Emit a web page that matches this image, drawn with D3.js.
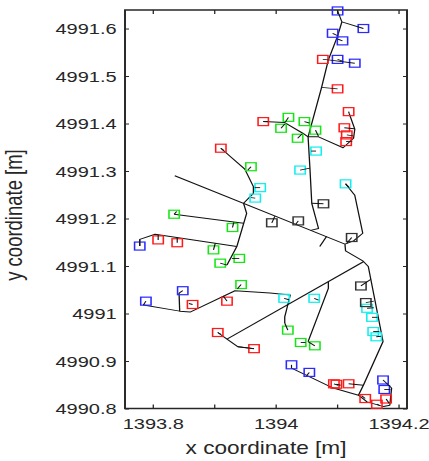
<!DOCTYPE html>
<html><head><meta charset="utf-8">
<script src="https://cdn.jsdelivr.net/npm/d3@7"></script>
<style>html,body{margin:0;padding:0;background:#fff;overflow:hidden}</style>
</head><body>
<svg id="chart" width="429" height="461"></svg>
<script>
// ---- data (metres) ----
const xTicks = [1393.8, 1393.9, 1394.0, 1394.1, 1394.2];
const xTickLabels = ["1393.8", "", "1394", "", "1394.2"];
const yTicks = [4990.8, 4990.9, 4991.0, 4991.1, 4991.2, 4991.3, 4991.4, 4991.5, 4991.6];
const yTickLabels = ["4990.8", "4990.9", "4991", "4991.1", "4991.2", "4991.3", "4991.4", "4991.5", "4991.6"];
const xTitle = "x coordinate [m]";
const yTitle = "y coordinate [m]";

// network polylines [x, y]
const networkLines = [
  [[1394.108,4991.614],[1394.101,4991.584],[1394.086,4991.534],[1394.075,4991.476],[1394.053,4991.372],[1394.056,4991.306],[1394.059,4991.232],[1394.070,4991.179],[1394.057,4991.175]],
  [[1393.980,4991.404],[1394.015,4991.402],[1394.045,4991.379],[1394.053,4991.372]],
  [[1394.053,4991.372],[1394.070,4991.372],[1394.110,4991.349],[1394.127,4991.369],[1394.129,4991.388],[1394.120,4991.421]],
  [[1393.911,4991.348],[1393.950,4991.304],[1393.964,4991.267],[1393.964,4991.253],[1393.948,4991.232],[1393.953,4991.211],[1393.937,4991.141],[1393.921,4991.102]],
  [[1393.835,4991.209],[1393.948,4991.190]],
  [[1393.779,4991.142],[1393.779,4991.156],[1393.804,4991.167],[1393.937,4991.141]],
  [[1393.836,4991.290],[1394.113,4991.146]],
  [[1394.113,4991.146],[1394.114,4991.132],[1394.142,4991.111],[1394.151,4991.099],[1394.175,4990.941],[1394.143,4990.849],[1394.135,4990.828]],
  [[1394.114,4991.273],[1394.129,4991.249],[1394.142,4991.169],[1394.127,4991.153],[1394.113,4991.146]],
  [[1394.083,4991.162],[1394.072,4991.141]],
  [[1393.785,4991.018],[1393.844,4991.005],[1393.861,4991.003],[1393.934,4991.048],[1393.991,4991.043],[1394.024,4991.039],[1394.015,4990.993],[1394.015,4990.980]],
  [[1393.843,4991.043],[1393.844,4991.005]],
  [[1393.906,4990.960],[1393.921,4990.946],[1393.939,4990.930],[1393.965,4990.926]],
  [[1393.921,4990.946],[1394.143,4991.109]],
  [[1394.086,4991.067],[1394.086,4991.053],[1394.053,4990.941]],
  [[1394.026,4990.885],[1394.094,4990.843],[1394.135,4990.828],[1394.149,4990.814],[1394.176,4990.804],[1394.186,4990.807],[1394.189,4990.843]]
];

// nodes: [x, y, linkX, linkY]
const blueNodes = [
  [1394.101,4991.637,1394.108,4991.614],[1394.143,4991.600,1394.108,4991.614],
  [1394.093,4991.590,1394.101,4991.585],[1394.109,4991.574,1394.101,4991.578],
  [1394.101,4991.535,1394.108,4991.532],[1394.129,4991.527,1394.086,4991.534],
  [1393.779,4991.142,1393.779,4991.156],[1393.789,4991.026,1393.785,4991.018],
  [1393.849,4991.048,1393.843,4991.043],[1394.026,4990.892,1394.026,4990.885],
  [1394.055,4990.876,1394.051,4990.870],[1394.175,4990.860,1394.189,4990.843],
  [1394.177,4990.840,1394.187,4990.840]
];
const redNodes = [
  [1394.077,4991.535,1394.086,4991.534],[1394.101,4991.473,1394.075,4991.476],
  [1394.119,4991.425,1394.120,4991.421],[1394.112,4991.391,1394.128,4991.389],
  [1394.116,4991.376,1394.126,4991.374],[1394.115,4991.362,1394.125,4991.363],
  [1393.980,4991.404,1393.988,4991.404],[1393.911,4991.348,1393.916,4991.343],
  [1393.809,4991.155,1393.809,4991.166],[1393.840,4991.149,1393.840,4991.160],
  [1393.865,4991.019,1393.859,4991.021],[1393.921,4991.026,1393.915,4991.037],
  [1393.906,4990.960,1393.911,4990.956],[1393.965,4990.926,1393.939,4990.930],
  [1394.095,4990.852,1394.102,4990.849],[1394.099,4990.851,1394.106,4990.849],
  [1394.119,4990.852,1394.143,4990.849],[1394.146,4990.821,1394.140,4990.827],
  [1394.165,4990.809,1394.170,4990.806],[1394.180,4990.820,1394.185,4990.811]
];
const greenNodes = [
  [1394.021,4991.413,1394.016,4991.403],[1394.009,4991.390,1394.015,4991.399],
  [1394.047,4991.404,1394.055,4991.401],[1394.036,4991.369,1394.043,4991.378],
  [1394.065,4991.386,1394.070,4991.373],[1393.960,4991.309,1393.955,4991.302],
  [1393.835,4991.209,1393.839,4991.215],[1393.930,4991.181,1393.932,4991.192],
  [1393.899,4991.134,1393.902,4991.148],[1393.910,4991.106,1393.921,4991.102],
  [1393.941,4991.116,1393.929,4991.116],[1393.944,4991.061,1393.938,4991.052],
  [1394.020,4990.965,1394.015,4990.980],[1394.041,4990.939,1394.049,4990.939],
  [1394.064,4990.932,1394.053,4990.941]
];
const cyanNodes = [
  [1394.066,4991.342,1394.058,4991.342],[1394.040,4991.302,1394.056,4991.306],
  [1393.975,4991.265,1393.966,4991.265],[1393.967,4991.243,1393.960,4991.244],
  [1394.114,4991.273,1394.120,4991.265],[1394.014,4991.032,1394.022,4991.029],
  [1394.063,4991.032,1394.070,4991.028],[1394.149,4991.011,1394.160,4991.012],
  [1394.157,4990.992,1394.166,4990.992],[1394.159,4990.962,1394.169,4990.962],
  [1394.164,4990.951,1394.172,4990.952]
];
const blackNodes = [
  [1394.078,4991.231,1394.059,4991.232],[1393.994,4991.191,1393.999,4991.205],
  [1394.037,4991.195,1394.033,4991.188],[1394.124,4991.160,1394.116,4991.148],
  [1394.139,4991.058,1394.155,4991.072],[1394.147,4991.023,1394.160,4991.026]
];

// ---- layout ----
const W = 429, H = 461;
const STRETCH = 614 / 475;          // picture is stretched horizontally
const VW = W / STRETCH;
const svg = d3.select("#chart")
  .attr("viewBox", `0 0 ${VW} ${H}`)
  .attr("preserveAspectRatio", "none");

const L = 125 / STRETCH, R = 407 / STRETCH, T = 10, B = 408.5;
const x = d3.scaleLinear().domain([1393.755, 1394.214]).range([L, R]);
const y = d3.scaleLinear().domain([4990.8, 4991.639]).range([B, T]);
const font = "'Liberation Sans', Arial, Helvetica, sans-serif";
const axisColor = "#262626";
const tickLen = 4;

// axes
function styleAxis(g) {
  g.select(".domain").remove();
  g.selectAll("line").attr("stroke", axisColor).attr("stroke-width", 1);
  g.selectAll("text").attr("font-family", font).attr("font-size", 15.5).attr("fill", axisColor);
}
svg.append("g").attr("transform", `translate(0,${B})`)
  .call(d3.axisBottom(x).tickValues(xTicks).tickSize(-tickLen).tickPadding(10)
    .tickFormat((d, i) => xTickLabels[i])).call(styleAxis);
svg.append("g").attr("transform", `translate(0,${T})`)
  .call(d3.axisTop(x).tickValues(xTicks).tickSize(-tickLen).tickFormat("")).call(styleAxis);
svg.append("g").attr("transform", `translate(${L},0)`)
  .call(d3.axisLeft(y).tickValues(yTicks).tickSize(-tickLen / STRETCH).tickPadding(6.4)
    .tickFormat((d, i) => yTickLabels[i])).call(styleAxis)
  .selectAll("text").attr("dy", "0.34em");
svg.append("g").attr("transform", `translate(${R},0)`)
  .call(d3.axisRight(y).tickValues(yTicks).tickSize(-tickLen / STRETCH).tickFormat("")).call(styleAxis);

svg.append("rect").attr("x", L).attr("y", T).attr("width", R - L).attr("height", B - T)
  .attr("fill", "none").attr("stroke", axisColor).attr("stroke-width", 1.5);

// titles
svg.append("text").attr("x", (L + R) / 2).attr("y", 454)
  .attr("text-anchor", "middle").attr("font-family", font).attr("font-size", 17.5)
  .attr("fill", axisColor).text(xTitle);
svg.append("text").attr("transform", `translate(${22 / STRETCH},215) rotate(-90)`)
  .attr("text-anchor", "middle").attr("font-family", font).attr("font-size", 18.5)
  .attr("fill", axisColor).text(yTitle);

// network
const line = d3.line().x(d => x(d[0])).y(d => y(d[1]));
svg.append("g").selectAll("path").data(networkLines).join("path")
  .attr("d", line).attr("fill", "none").attr("stroke", "#111").attr("stroke-width", 1)
  .attr("stroke-linejoin", "round");

// nodes
const groups = [
  {data: blueNodes, color: "#2a2aff"},
  {data: redNodes, color: "#ff1a1a"},
  {data: greenNodes, color: "#14e614"},
  {data: cyanNodes, color: "#12eeee"},
  {data: blackNodes, color: "#333333"}
];
const S = 8;
groups.forEach(gr => {
  const g = svg.append("g");
  g.selectAll("rect").data(gr.data).join("rect")
    .attr("x", d => x(d[0]) - S / 2).attr("y", d => y(d[1]) - S / 2)
    .attr("width", S).attr("height", S)
    .attr("fill", "none").attr("stroke", gr.color).attr("stroke-width", 1.2);
  g.selectAll("line").data(gr.data).join("line")
    .attr("x1", d => x(d[0])).attr("y1", d => y(d[1]))
    .attr("x2", d => x(d[2])).attr("y2", d => y(d[3]))
    .attr("stroke", "#111").attr("stroke-width", 0.9);
});
</script>
</body></html>
